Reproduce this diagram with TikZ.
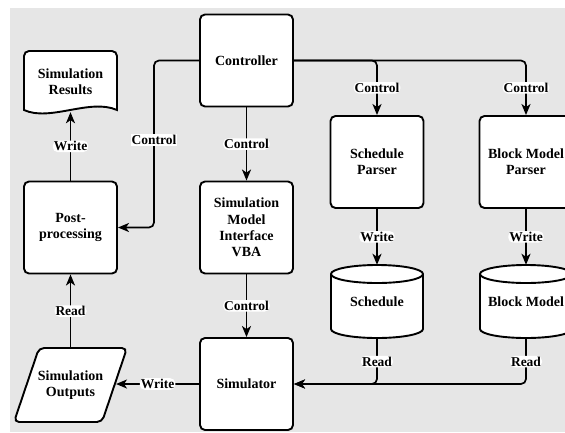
\documentclass[tikz,border=0pt]{standalone}
\usepackage{fontspec}
\setmainfont{Liberation Serif}
\usetikzlibrary{arrows.meta,calc}
\definecolor{bgc}{RGB}{230,230,230}
\begin{document}
\begin{tikzpicture}[x=1pt,y=-1pt,
  box/.style={draw,line width=1.9pt,rounded corners=5pt,fill=white,minimum width=93pt,minimum height=92pt,inner sep=0pt,align=center,font=\fontsize{14}{16.3}\selectfont\bfseries},
  txt/.style={inner sep=0pt,align=center,font=\fontsize{14}{16.3}\selectfont\bfseries},
  shp/.style={draw,line width=1.9pt,fill=white},
  lbl/.style={fill=white,inner sep=1pt,font=\fontsize{13.5}{15}\selectfont\bfseries},
  conn/.style={line width=1.7pt,rounded corners=5pt},
  arr/.style={conn,-{Stealth[length=11pt,width=9pt,inset=3pt]}}]
\useasboundingbox (0,0) rectangle (565,432);
\clip (0,0) rectangle (565,432);
\fill[bgc] (10,8) rectangle (565,432);

% document shape: Simulation Results
\draw[shp] (24,110) [rounded corners=5pt] -- (24,51) -- (117,51) [sharp corners] -- (117,110)
  .. controls (90,98) and (50,122) .. (24,110) -- cycle;
\node[txt,minimum width=93pt,minimum height=61pt] (res) at (70.5,81.5) {Simulation\\Results};

% parallelogram: Simulation Outputs
\draw[shp,rounded corners=5pt] (39,348) -- (127,348) -- (102,422) -- (14,422) -- cycle;
\node[txt,minimum width=90pt,minimum height=74pt] (so) at (70.5,385) {Simulation\\Outputs};
\coordinate (soe) at (116,384);

% boxes
\node[box] (ctrl) at (246.5,60.5) {Controller};
\node[box] (smi) at (246.5,227.5) {Simulation\\Model\\Interface\\VBA};
\node[box] (sim) at (246.5,384) {Simulator};
\node[box] (post) at (70.5,227.5) {Post-\\processing};
\node[box] (sp) at (377,162) {Schedule\\Parser};
\node[box] (bmp) at (526,162) {Block Model\\Parser};

% cylinders
\foreach \cx in {377,526}{
\begin{scope}[shift={(\cx,0)}]
\draw[shp] (-46,274) .. controls (-46,269) and (-25.4,265) .. (0,265) .. controls (25.4,265) and (46,269) .. (46,274)
  -- (46,329) .. controls (46,334) and (25.4,338) .. (0,338) .. controls (-25.4,338) and (-46,334) .. (-46,329) -- cycle;
\draw[line width=1.9pt] (-46,274) .. controls (-46,279) and (-25.4,283) .. (0,283) .. controls (25.4,283) and (46,279) .. (46,274);
\end{scope}}
\node[txt,minimum width=92pt,minimum height=74pt] (sch) at (377,302) {Schedule};
\node[txt,minimum width=92pt,minimum height=74pt] (bm) at (526,302) {Block Model};

% connectors
\draw[arr] (post.north) -- node[lbl]{Write} (res.south);
\draw[arr] (ctrl.south) -- node[lbl]{Control} (smi.north);
\draw[arr] (smi.south) -- node[lbl]{Control} (sim.north);
\draw[arr] (so.north) -- node[lbl]{Read} (post.south);
\draw[arr] (sim.west) -- node[lbl]{Write} (soe);
\draw[arr] (sp.south) -- node[lbl]{Write} (sch.north);
\draw[arr] (bmp.south) -- node[lbl]{Write} (bm.north);
\coordinate (lc) at (154,140);
\draw[arr] (ctrl.west) -| (lc) |- (post.east);
\node[lbl] (lcl) at (lc) {Control};
\draw[arr] (ctrl.east) -| node[lbl,pos=0.75]{Control} (sp.north);
\draw[arr] (ctrl.east) -| node[lbl,pos=0.75]{Control} (bmp.north);
\draw[arr] (sch.south) |- node[lbl,pos=0.25]{Read} (sim.east);
\draw[arr] (bm.south) |- node[lbl,pos=0.25]{Read} (sim.east);
\end{tikzpicture}
\end{document}
